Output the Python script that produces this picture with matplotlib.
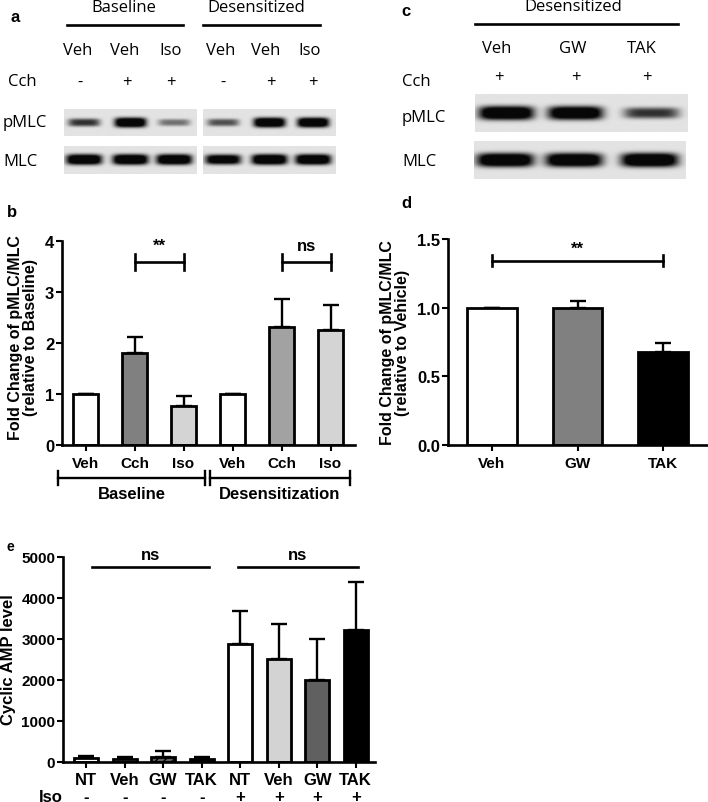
import numpy as np
import matplotlib
matplotlib.use("Agg")
from matplotlib import pyplot as plt
from matplotlib.lines import Line2D

plt.rcParams['font.family'] = ['Liberation Sans', 'DejaVu Sans']
plt.rcParams['font.weight'] = 'bold'
plt.rcParams['hatch.color'] = 'white'

# ---- data ----
# panel b
b_labels = ['Veh', 'Cch', 'Iso', 'Veh', 'Cch', 'Iso']
b_vals = [1.0, 1.81, 0.77, 1.0, 2.32, 2.26]
b_err = [0.0, 0.30, 0.19, 0.0, 0.55, 0.49]
b_colors = ['white', '#808080', '#d4d4d4', 'white', '#a2a2a2', '#d4d4d4']

# panel d
d_labels = ['Veh', 'GW', 'TAK']
d_vals = [1.0, 1.0, 0.68]
d_err = [0.0, 0.05, 0.06]
d_colors = ['white', '#808080', 'black']

# panel e
e_labels = ['NT', 'Veh', 'GW', 'TAK', 'NT', 'Veh', 'GW', 'TAK']
e_iso = ['-', '-', '-', '-', '+', '+', '+', '+']
e_vals = [90, 80, 120, 80, 2870, 2520, 2000, 3230]
e_err = [50, 50, 150, 40, 810, 840, 1000, 1170]
e_colors = ['white', '#d3d3d3', '#606060', 'black', 'white', '#d3d3d3', '#606060', 'black']
e_hatch = ['', '', '////', '....', '', '', '', '']

# western blot band strengths (0 = none, 1 = saturated)
a_base_pmlc = [0.55, 0.95, 0.35]
a_des_pmlc = [0.45, 0.95, 0.95]
a_base_mlc = [0.95, 0.95, 0.95]
a_des_mlc = [0.85, 0.95, 0.95]
c_pmlc = [0.95, 0.92, 0.55]
c_mlc = [0.95, 0.95, 0.97]
a_lanes = ['Veh', 'Veh', 'Iso']
a_cch = ['-', '+', '+']
c_lanes = ['Veh', 'GW', 'TAK']
c_cch = ['+', '+', '+']

W, H = 708, 803
fig = plt.figure(figsize=(W / 100, H / 100), dpi=100)


def box(x0, y0, x1, y1):
    return [x0 / W, 1 - y1 / H, (x1 - x0) / W, (y1 - y0) / H]


def ftext(x, y, s, **kw):
    kw.setdefault('ha', 'center')
    kw.setdefault('va', 'center')
    fig.text(x / W, 1 - y / H, s, **kw)


def fline(x0, x1, y, lw=1.9):
    fig.add_artist(Line2D([x0 / W, x1 / W], [1 - y / H, 1 - y / H],
                          color='black', lw=lw))


def blot(rect, strengths, centers, bw=0.24):
    ax = fig.add_axes(rect)
    xs = np.linspace(0, 1, 220)
    ys = np.linspace(0, 1, 40)
    X, Y = np.meshgrid(xs, ys)
    dark = np.zeros_like(X)
    for c, s in zip(centers, strengths):
        px = np.exp(-np.abs((X - c) / (bw / 2)) ** 5)
        py = np.exp(-np.abs((Y - 0.5) / (0.10 + 0.09 * s)) ** 3)
        dark += s * px * py * 1.5
    dark = np.clip(dark, 0, 1)
    img = 0.89 * (1 - dark) + 0.03 * dark
    ax.imshow(img, cmap='gray', vmin=0, vmax=1, aspect='auto',
              interpolation='bilinear')
    ax.axis('off')


blot_font = dict(family=['Open Sans', 'DejaVu Sans'], weight='normal', fontsize=12)

# ---- panel a ----
ftext(15, 18, 'a', fontsize=12)
ftext(124, 8, 'Baseline', **blot_font)
ftext(256, 8, 'Desensitized', **blot_font)
fline(67, 183, 26)
fline(203, 320, 26)
a_lane_x = [[78, 125, 171], [221, 266, 310]]
a_sign_x = [[80, 127, 171], [223, 271, 313]]
for g in range(2):
    for i in range(3):
        ftext(a_lane_x[g][i], 51, a_lanes[i], **blot_font)
        ftext(a_sign_x[g][i], 83, a_cch[i], **blot_font)
ftext(8, 82, 'Cch', ha='left', **blot_font)
ftext(3, 123, 'pMLC', ha='left', **blot_font)
ftext(3, 162, 'MLC', ha='left', **blot_font)
lane_c = [0.15, 0.5, 0.83]
blot(box(64, 110, 197, 137), a_base_pmlc, lane_c)
blot(box(203, 110, 336, 137), a_des_pmlc, lane_c)
blot(box(64, 147, 197, 175), a_base_mlc, lane_c, bw=0.27)
blot(box(203, 147, 336, 175), a_des_mlc, lane_c, bw=0.27)

# ---- panel c ----
ftext(406, 12, 'c', fontsize=12)
ftext(573, 7, 'Desensitized', **blot_font)
fline(475, 678, 25)
for xl, xs_, lab, sg in zip([497, 573, 642], [499, 576, 647], c_lanes, c_cch):
    ftext(xl, 49, lab, **blot_font)
    ftext(xs_, 78, sg, **blot_font)
ftext(402, 82, 'Cch', ha='left', **blot_font)
ftext(402, 118, 'pMLC', ha='left', **blot_font)
ftext(402, 162, 'MLC', ha='left', **blot_font)
lane_cc = [0.146, 0.472, 0.83]
blot(box(475, 95, 687, 133), c_pmlc, lane_cc, bw=0.26)
blot(box(474, 142, 686, 180), c_mlc, lane_cc, bw=0.27)


def style(ax):
    ax.spines[['top', 'right']].set_visible(False)
    for s in ['left', 'bottom']:
        ax.spines[s].set_linewidth(1.9)
    ax.tick_params(width=1.5, length=4)


def bars(ax, vals, err, colors, width, hatches=None):
    x = np.arange(len(vals))
    ax.errorbar(x, vals, yerr=[np.zeros(len(vals)), err], fmt='none',
                ecolor='black', elinewidth=1.7, capsize=5.5, capthick=1.7,
                zorder=1)
    ax.bar(x, vals, width, color=colors, edgecolor='black', linewidth=2.0,
           zorder=2, hatch=hatches)
    ax.set_xticks(x)
    return x


def sig(ax, x0, x1, y, dy, txt, ty):
    ax.plot([x0, x1], [y, y], color='black', lw=1.9)
    if dy:
        for xx in (x0, x1):
            ax.plot([xx, xx], [y - dy, y + dy], color='black', lw=1.9)
    ax.text((x0 + x1) / 2, ty, txt, ha='center', va='center', fontsize=12)


# ---- panel b ----
ftext(12, 213, 'b', fontsize=12)
ax_b = fig.add_axes(box(62, 242, 355, 446))
style(ax_b)
xb = bars(ax_b, b_vals, b_err, b_colors, 0.51)
ax_b.set_xlim(-0.48, 5.5)
ax_b.set_ylim(0, 4)
ax_b.set_yticks([0, 1, 2, 3, 4])
ax_b.set_xticklabels(b_labels, fontsize=11)
ax_b.tick_params(axis='y', labelsize=12, pad=1.5)
ax_b.tick_params(axis='x', pad=4)
sig(ax_b, 1, 2, 3.59, 0.15, '**', 3.92)
sig(ax_b, 4, 5, 3.59, 0.15, 'ns', 3.92)
ftext(23, 338, 'Fold Change of pMLC/MLC\n(relative to Baseline)',
      rotation=90, fontsize=11.5, linespacing=1.0)
trans = ax_b.get_xaxis_transform()
for (g0, g1), name in zip([(-0.56, 2.44), (2.54, 5.4)], ['Baseline', 'Desensitization']):
    ax_b.plot([g0, g1], [-0.162, -0.162], color='black', lw=1.7,
              transform=trans, clip_on=False)
    for gx in (g0, g1):
        ax_b.plot([gx, gx], [-0.128, -0.198], color='black', lw=1.7,
                  transform=trans, clip_on=False)
    ax_b.text((g0 + g1) / 2, -0.2, name, ha='center', va='top',
              fontsize=12, transform=trans)

# ---- panel d ----
ftext(406, 203, 'd', fontsize=12)
ax_d = fig.add_axes(box(448, 240, 707, 446))
style(ax_d)
bars(ax_d, d_vals, d_err, d_colors, 0.58)
ax_d.set_xlim(-0.51, 2.51)
ax_d.set_ylim(0, 1.5)
ax_d.set_yticks([0.0, 0.5, 1.0, 1.5])
ax_d.set_yticklabels(['0.0', '0.5', '1.0', '1.5'])
ax_d.set_xticklabels(d_labels, fontsize=11)
ax_d.tick_params(axis='y', labelsize=12, pad=1.5)
ax_d.tick_params(axis='x', pad=4)
sig(ax_d, 0, 2, 1.34, 0.04, '**', 1.43)
ftext(395, 343, 'Fold Change of pMLC/MLC\n(relative to Vehicle)',
      rotation=90, fontsize=11.5, linespacing=1.0)

# ---- panel e ----
ftext(10, 547, 'e', fontsize=10)
ax_e = fig.add_axes(box(63, 558, 375, 763))
style(ax_e)
xe = bars(ax_e, e_vals, e_err, e_colors, 0.62, hatches=e_hatch)
ax_e.set_xlim(-0.6, 7.5)
ax_e.set_ylim(0, 5000)
ax_e.set_yticks(range(0, 5001, 1000))
ax_e.set_xticklabels(e_labels, fontsize=12)
ax_e.tick_params(axis='y', labelsize=11, pad=1.5)
ax_e.tick_params(axis='x', pad=3)
sig(ax_e, 0.15, 3.2, 4750, 0, 'ns', 5070)
sig(ax_e, 3.95, 7.05, 4750, 0, 'ns', 5070)
ftext(9, 660, 'Cyclic AMP level', rotation=90, fontsize=12)
etrans = ax_e.get_xaxis_transform()
ax_e.text(-0.6, -0.166, 'Iso', ha='right', va='center', fontsize=12,
          transform=etrans)
for xx, s in zip(xe, e_iso):
    ax_e.text(xx, -0.166, s, ha='center', va='center', fontsize=12,
              transform=etrans)

fig.savefig('out.png', dpi=100)
